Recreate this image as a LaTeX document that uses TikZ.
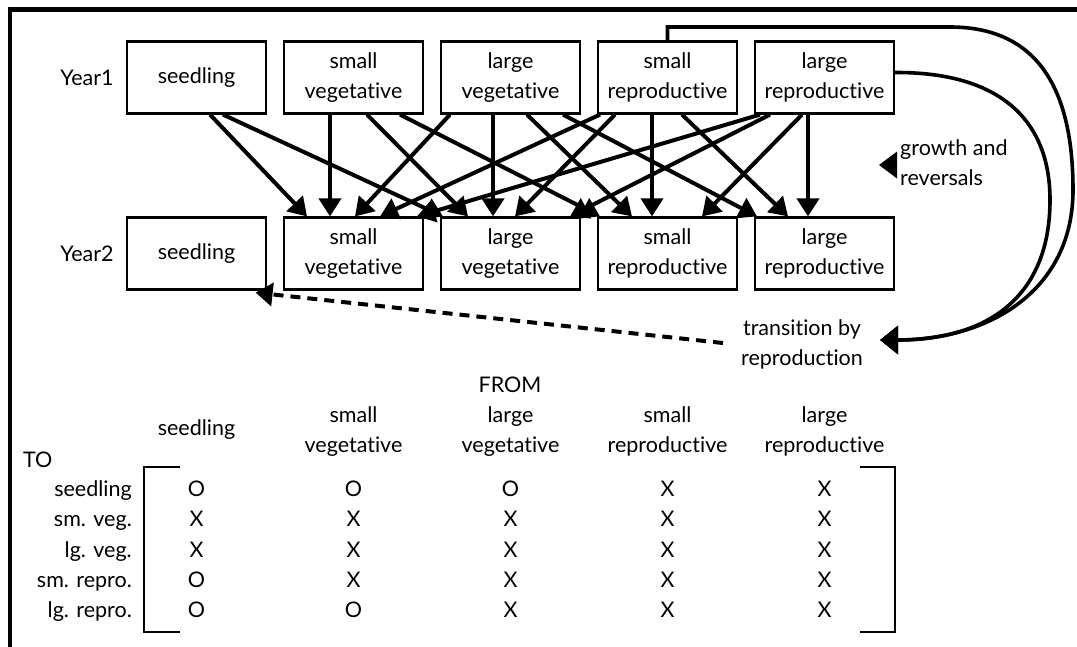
\documentclass[tikz,border=0pt]{standalone}
\usepackage{fontspec}
\setmainfont{Lato}[Ligatures=NoCommon]
\usetikzlibrary{arrows.meta}
\begin{document}
\begin{tikzpicture}[x=1pt,y=-1pt,
  lbl/.style={inner sep=0pt, align=center, font=\fontsize{21.5}{30}\selectfont},
  box/.style={lbl, draw, line width=2.2pt, minimum width=139pt, minimum height=72pt},
  cell/.style={lbl, text height=15pt, text depth=5pt},
  arr/.style={line width=4pt, -{Triangle[length=18pt,width=22pt]}},
  loopline/.style={line width=3.6pt, -{Triangle[length=18pt,width=28pt]}},
  dashline/.style={line width=4pt, dash pattern=on 10pt off 7pt, -{Triangle[length=17pt,width=23pt]}},
  bracket/.style={line width=2.4pt}]
\clip (0,0) rectangle (1077,646);
% frame
\draw[line width=4.6pt] (10,700) -- (10,9.5) -- (1120,9.5);
% Year 1 boxes
\node[box] (a1) at (196.5,77.5) {seedling};
\node[box] (a2) at (353.5,77.5) {small\\vegetative};
\node[box] (a3) at (510.5,77.5) {large\\vegetative};
\node[box] (a4) at (667.5,77.5) {small\\reproductive};
\node[box] (a5) at (824.5,77.5) {large\\reproductive};
% Year 2 boxes
\node[box] (b1) at (196.5,253.5) {seedling};
\node[box] (b2) at (353.5,253.5) {small\\vegetative};
\node[box] (b3) at (510.5,253.5) {large\\vegetative};
\node[box] (b4) at (667.5,253.5) {small\\reproductive};
\node[box] (b5) at (824.5,253.5) {large\\reproductive};
\node[lbl] (y1) at (87,78) {Year1};
\node[lbl] (y2) at (87,254) {Year2};
% transitions
\draw[arr] ([xshift=13.5pt]a1.south) -- ([xshift=-46.5pt]b2.north);
\draw[arr] ([xshift=26.5pt]a1.south) -- ([xshift=-67.5pt]b3.north);
\draw[arr] ([xshift=-23.5pt]a2.south) -- ([xshift=-23.5pt]b2.north);
\draw[arr] ([xshift=13.5pt]a2.south) -- ([xshift=-42.5pt]b3.north);
\draw[arr] ([xshift=46.5pt]a2.south) -- ([xshift=-67.5pt]b4.north);
\draw[arr] ([xshift=-60.5pt]a3.south) -- ([xshift=1.5pt]b2.north);
\draw[arr] ([xshift=-17.5pt]a3.south) -- ([xshift=-17.5pt]b3.north);
\draw[arr] ([xshift=16.5pt]a3.south) -- ([xshift=-35.5pt]b4.north);
\draw[arr] ([xshift=52.5pt]a3.south) -- ([xshift=-67.5pt]b5.north);
\draw[arr] ([xshift=-67.5pt]a4.south) -- ([xshift=26.5pt]b2.north);
\draw[arr] ([xshift=-52.5pt]a4.south) -- ([xshift=4.5pt]b3.north);
\draw[arr] ([xshift=-15.5pt]a4.south) -- ([xshift=-15.5pt]b4.north);
\draw[arr] ([xshift=14.5pt]a4.south) -- ([xshift=-36.5pt]b5.north);
\draw[arr] ([xshift=-64.5pt]a5.south) -- ([xshift=63.5pt]b2.north);
\draw[arr] ([xshift=-54.5pt]a5.south) -- ([xshift=59.5pt]b3.north);
\draw[arr] ([xshift=-22.5pt]a5.south) -- ([xshift=34.5pt]b4.north);
\draw[arr] ([xshift=-16.5pt]a5.south) -- ([xshift=-16.5pt]b5.north);
% labels on the right
\node[lbl, anchor=west, align=left] (growth) at (900,162.5) {growth and\\reversals};
\fill ([xshift=-21pt,yshift=-2.5pt]growth.west) -- ([xshift=-3pt,yshift=11pt]growth.west) -- ([xshift=-3pt,yshift=-16pt]growth.west) -- cycle;
\node[lbl] (trans) at (802,344) {transition by\\reproduction};
\coordinate (tip) at (880,340);
\draw[loopline] (a4.north) |- (950,27) .. controls (1045,27) and (1073,100) .. (1073,190) .. controls (1073,290) and (990,340) .. (tip);
\draw[loopline] ([yshift=5pt]a5.east) .. controls (1000,72) and (1050,120) .. (1050,200) .. controls (1050,295) and (990,340) .. (tip);
\draw[dashline] ([xshift=-18pt,yshift=1pt]trans.west) -- ([xshift=-11.5pt,yshift=-2pt]b1.south east);
% matrix
\node[lbl] (from) at (510,385) {FROM};
\node[lbl, anchor=west] (to) at (23,460) {TO};
\node[lbl] (h1) at (196.5,430) {seedling};
\node[lbl] (h2) at (353.5,431.5) {small\\vegetative};
\node[lbl] (h3) at (510.5,431.5) {large\\vegetative};
\node[lbl] (h4) at (667.5,431.5) {small\\reproductive};
\node[lbl] (h5) at (824.5,431.5) {large\\reproductive};
\foreach \y/\lab/\row [count=\r] in {491.5/seedling/{O,O,O,X,X},521.5/sm. veg./{X,X,X,X,X},552/lg. veg./{X,X,X,X,X},582.5/sm. repro./{O,X,X,X,X},612.5/lg. repro./{O,O,X,X,X}} {
  \node[cell, anchor=east] (r\r) at (132,\y) {\lab};
  \foreach \e [count=\c] in \row {
    \node[cell] (m\r\c) at ({196.5+157*(\c-1)},\y) {\e};
  }
}
\draw[bracket] (180,467) -- (144,467) -- (144,632) -- (180,632);
\draw[bracket] (860,467) -- (895,467) -- (895,632) -- (860,632);
\end{tikzpicture}
\end{document}
